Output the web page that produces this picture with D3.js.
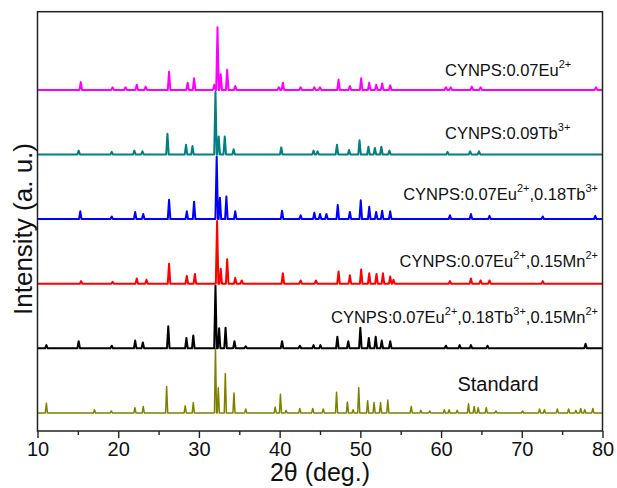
<!DOCTYPE html>
<html lang="en">
<head>
  <meta charset="utf-8">
  <title>XRD patterns</title>
  <style>
    body { margin: 0; background: #fff; }
    svg text { font-family: "Liberation Sans", Arial, sans-serif; fill: #111; }
    .axis path, .axis line { stroke: #222; stroke-width: 1.4; fill: none; }
    .trace { fill: none; stroke-linejoin: round; }
  </style>
</head>
<body>
<div id="chart"></div>
<script src="https://d3js.org/d3.v7.min.js"></script>
<script>
  // peaks: [2theta, relative height]
  let stdPeaks = [[11.1, 15], [17.06, 5], [19.15, 3], [22.07, 8], [23.1, 10], [26.0, 41], [28.3, 11], [29.3, 16],
    [32.05, 100], [32.4, 39], [33.27, 61], [34.34, 31], [35.8, 6], [39.45, 9], [40.1, 29], [40.8, 4], [42.5, 7],
    [44.1, 7], [45.4, 6], [47.05, 32], [48.4, 17], [49.1, 5], [49.8, 39], [50.9, 19], [51.7, 16], [52.5, 16],
    [53.4, 20], [56.3, 10], [57.5, 4], [58.6, 3], [60.4, 5], [61.0, 5], [62.0, 4], [63.4, 14], [64.1, 10],
    [64.6, 8], [65.6, 8], [66.8, 3], [70.1, 3], [72.2, 6], [72.8, 5], [74.4, 6], [75.8, 6], [76.7, 4], [77.3, 7],
    [77.8, 5], [78.8, 7]];

  let blackPeaks = [[11.1, 5], [15.1, 11], [19.2, 4], [22.1, 12], [23.05, 9], [26.2, 34], [28.45, 16], [29.3, 20],
    [32.05, 97], [32.5, 31], [33.3, 32], [34.4, 11], [35.8, 3], [40.3, 11], [42.5, 4], [44.2, 5], [45.05, 5],
    [47.15, 18], [48.5, 11], [50.0, 32], [51.05, 16], [51.9, 18], [52.65, 12], [53.7, 11], [60.6, 4], [62.3, 5],
    [63.7, 5], [65.75, 4], [77.9, 7]];

  let redPeaks = [[15.4, 4], [19.3, 3], [22.3, 8], [23.5, 6], [26.3, 31], [28.5, 12], [29.5, 15], [32.25, 97],
    [32.7, 23], [33.5, 38], [34.5, 9], [35.3, 5], [40.4, 16], [42.6, 5], [44.5, 5], [47.3, 19], [48.7, 13],
    [50.1, 22], [51.1, 16], [52.0, 15], [52.8, 16], [53.7, 11], [54.1, 6], [61.1, 4], [63.7, 8], [64.9, 5],
    [66.0, 5], [72.6, 4]];

  let bluePeaks = [[15.3, 12], [19.2, 4], [22.1, 11], [23.1, 8], [26.3, 30], [28.5, 12], [29.4, 27], [32.2, 97],
    [32.6, 33], [33.4, 35], [34.5, 12], [40.3, 13], [42.6, 6], [44.3, 10], [45.0, 8], [45.8, 8], [47.2, 22],
    [48.7, 11], [50.05, 29], [51.1, 19], [51.96, 11], [52.7, 13], [53.7, 12], [61.1, 6], [63.7, 8], [66.0, 5],
    [72.6, 4], [79.1, 5]];

  let tealPeaks = [[15.1, 6], [19.2, 4], [22.0, 6], [23.0, 5], [26.1, 32], [28.4, 15], [29.2, 13], [32.05, 97],
    [32.45, 28], [33.2, 28], [34.3, 8], [40.2, 11], [44.2, 6], [44.7, 5], [47.1, 15], [48.6, 7], [49.9, 22],
    [51.0, 12], [51.8, 10], [52.6, 12], [53.6, 6], [60.8, 4], [63.6, 5], [64.7, 5]];

  let magentaPeaks = [[15.36, 12], [19.3, 4], [20.9, 4], [22.3, 8], [23.4, 5], [26.3, 28], [28.6, 11], [29.4, 18],
    [31.9, 8], [32.3, 97], [32.7, 24], [33.5, 31], [34.5, 6], [39.9, 4], [40.4, 11], [42.6, 4], [44.3, 4],
    [45.0, 4], [47.3, 16], [48.7, 6], [50.1, 18], [51.1, 11], [51.97, 8], [52.7, 10], [53.7, 7], [60.6, 4],
    [61.2, 4], [63.8, 5], [64.9, 4], [79.2, 4]];

  let series = [stdPeaks, blackPeaks, redPeaks, bluePeaks, tealPeaks, magentaPeaks];
  let offsets = [0, 100, 200, 300, 400, 500];
  let colors = ["#808000", "#000000", "#ff0000", "#0000ff", "#008080", "#ff00ff"];
  let xTicks = [10, 20, 30, 40, 50, 60, 70, 80];

  // sample labels: text, sup, text, sup ...
  let labels = [
    ["Standard"],
    ["CYNPS:0.07Eu", "2+", ",0.18Tb", "3+", ",0.15Mn", "2+"],
    ["CYNPS:0.07Eu", "2+", ",0.15Mn", "2+"],
    ["CYNPS:0.07Eu", "2+", ",0.18Tb", "3+"],
    ["CYNPS:0.09Tb", "3+"],
    ["CYNPS:0.07Eu", "2+"]
  ];

  let W = 617, H = 488;
  let mLeft = 37.5, mRight = 602.5, mTop = 11.7, mBottom = 431;

  let svg = d3.select("#chart").append("svg")
    .attr("width", W).attr("height", H);

  let x = d3.scaleLinear().domain([10, 80]).range([mLeft, mRight]);
  let y = d3.scaleLinear().domain([-28, 621]).range([mBottom, mTop]);

  function profile(peaks, off, hw) {
    let pts = [[10, off]];
    peaks.forEach((p) => {
      pts.push([p[0] - hw, off], [p[0], off + p[1]], [p[0] + hw, off]);
    });
    pts.push([80, off]);
    return pts;
  }

  let line = d3.line().x((d) => x(d[0])).y((d) => y(d[1]));

  series.forEach((s, i) => {
    svg.append("path")
      .attr("class", "trace")
      .attr("d", line(profile(s, offsets[i], i == 0 ? 0.13 : 0.16)))
      .attr("stroke", colors[i])
      .attr("stroke-width", i == 0 ? 1.5 : 2);
  });

  // frame
  svg.append("rect")
    .attr("x", mLeft).attr("y", mTop)
    .attr("width", mRight - mLeft).attr("height", mBottom - mTop)
    .attr("fill", "none").attr("stroke", "#222").attr("stroke-width", 1.5);

  let xAxis = svg.append("g")
    .attr("class", "axis")
    .attr("transform", "translate(0," + mBottom + ")")
    .call(d3.axisBottom(x).tickValues(xTicks).tickSize(7).tickPadding(4).tickFormat(d3.format("d")));
  xAxis.select(".domain").remove();
  xAxis.selectAll("text").style("font-size", "20px").attr("fill", "#111");

  svg.append("g")
    .attr("class", "axis")
    .attr("transform", "translate(0," + mBottom + ")")
    .call(d3.axisBottom(x).tickValues(d3.range(15, 80, 10)).tickSize(4).tickFormat(""))
    .select(".domain").remove();

  svg.append("text")
    .attr("x", (mLeft + mRight) / 2).attr("y", 481)
    .attr("text-anchor", "middle")
    .style("font-size", "25px")
    .text("2θ (deg.)");

  svg.append("text")
    .attr("transform", "translate(32,229) rotate(-90)")
    .attr("text-anchor", "middle")
    .style("font-size", "26px")
    .text("Intensity (a. u.)");

  // label placement (pixel layout)
  let labelPos = [
    { x: 498, y: 391, anchor: "middle", size: 20 },
    { x: 598, y: 322.5, anchor: "end", size: 16.5 },
    { x: 598, y: 266.5, anchor: "end", size: 16.5 },
    { x: 598, y: 200, anchor: "end", size: 16.5 },
    { x: 445, y: 138.5, anchor: "start", size: 16.5 },
    { x: 445, y: 76, anchor: "start", size: 16.5 }
  ];

  labels.forEach((parts, i) => {
    let p = labelPos[i];
    let t = svg.append("text")
      .attr("x", p.x).attr("y", p.y)
      .attr("text-anchor", p.anchor)
      .style("font-size", p.size + "px");
    parts.forEach((txt, j) => {
      let sup = j % 2 == 1;
      t.append("tspan")
        .attr("dy", sup ? -8 : (j > 0 ? 8 : 0))
        .style("font-size", sup ? "11px" : p.size + "px")
        .text(txt);
    });
  });
</script>
</body>
</html>
